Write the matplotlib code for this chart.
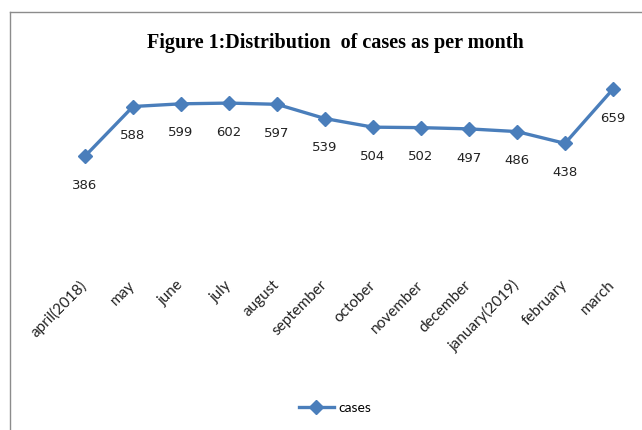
import matplotlib
matplotlib.use("Agg")
import matplotlib.pyplot as plt
from matplotlib.lines import Line2D

months = ["april(2018)", "may", "june", "july", "august", "september", "october",
          "november", "december", "january(2019)", "february", "march"]
cases = [386, 588, 599, 602, 597, 539, 504, 502, 497, 486, 438, 659]

W, H = 642, 430
fig = plt.figure(figsize=(W / 100, H / 100), dpi=100)

# outer border
fig.add_artist(Line2D([10 / W, 10 / W], [0, 1 - 12 / H], transform=fig.transFigure, color="#8c8c8c", lw=1))
fig.add_artist(Line2D([10 / W, 1], [1 - 12 / H, 1 - 12 / H], transform=fig.transFigure, color="#8c8c8c", lw=1))

ax = fig.add_axes([61 / W, 1 - 251 / H, (637 - 61) / W, (251 - 79) / H])
color = "#4a7ebb"
x = list(range(len(months)))
ax.plot(x, cases, color=color, lw=2.4, marker="D", markersize=7.5, label="cases")
for xi, v in zip(x, cases):
    ax.annotate(str(v), (xi, v), xytext=(0, -21), textcoords="offset points",
                ha="center", va="center", fontsize=9.5, family="DejaVu Sans", color="#222222")

ax.set_xlim(-0.5, len(months) - 0.5)
ax.set_ylim(0, 700)
ax.set_yticks([])
ax.set_xticks(x)
ax.set_xticklabels(months, rotation=45, ha="right", va="center", rotation_mode="anchor",
                   fontsize=11, family="Lato", color="#222222")
ax.tick_params(axis="x", length=0, pad=23)
for s in ax.spines.values():
    s.set_visible(False)

fig.text(335 / W, 1 - 43 / H, "Figure 1:Distribution  of cases as per month", ha="center", va="center",
         fontsize=14.5, family="Liberation Serif", weight="bold")

leg = fig.legend(handles=ax.get_lines(), loc="center", bbox_to_anchor=(335 / W, 1 - 408 / H),
                 frameon=False, prop={"family": "Lato", "size": 10}, handlelength=2.5,
                 handletextpad=0.3)

fig.savefig("out.png", dpi=100)
